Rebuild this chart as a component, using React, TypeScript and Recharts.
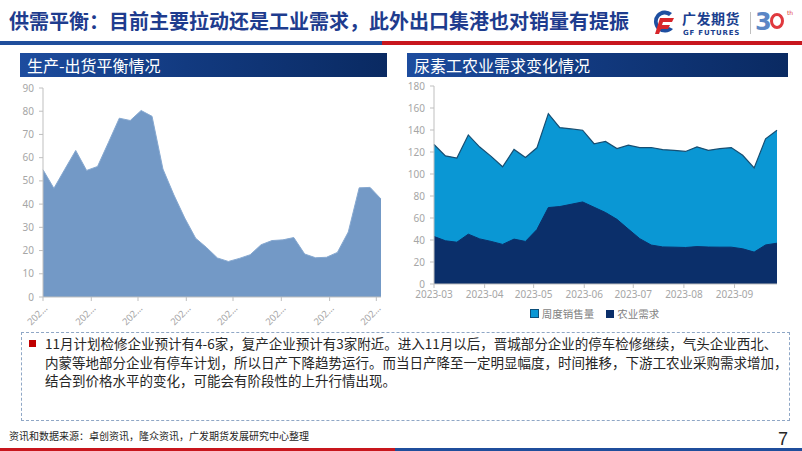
import { AreaChart, Area, XAxis, YAxis, Legend } from "recharts";

// left chart: weekly production-shipment balance
const prodWeeks = [
  "2023-03-01", "2023-03-08", "2023-03-15", "2023-03-22", "2023-03-29",
  "2023-04-05", "2023-04-12", "2023-04-19", "2023-04-26",
  "2023-05-03", "2023-05-10", "2023-05-17", "2023-05-24", "2023-05-31",
  "2023-06-07", "2023-06-14", "2023-06-21", "2023-06-28",
  "2023-07-05", "2023-07-12", "2023-07-19", "2023-07-26",
  "2023-08-02", "2023-08-09", "2023-08-16", "2023-08-23", "2023-08-30",
  "2023-09-06", "2023-09-13", "2023-09-20", "2023-09-27", "2023-10-04",
];
const prodBalance = [
  54.8, 46.8, 55, 63.1, 54.5, 56.2, 66.5, 77, 76, 80.3, 77.8, 55.1, 44, 34, 25.3, 21.3,
  16.8, 15.3, 16.6, 18.2, 22.5, 24.3, 24.6, 25.6, 18.5, 16.9, 17.1, 19.2, 28, 47, 47.2, 42.2,
];
const prodTicks = [
  "2023-03-01", "2023-04-01", "2023-05-01", "2023-06-01",
  "2023-07-01", "2023-08-01", "2023-09-01", "2023-10-01",
];
const prodYTicks = [0, 10, 20, 30, 40, 50, 60, 70, 80, 90];

// right chart: urea industrial / agricultural demand
const ureaWeeks = [
  "2023-03-01", "2023-03-08", "2023-03-15", "2023-03-22", "2023-03-29",
  "2023-04-05", "2023-04-12", "2023-04-19", "2023-04-26",
  "2023-05-03", "2023-05-10", "2023-05-17", "2023-05-24", "2023-05-31",
  "2023-06-07", "2023-06-14", "2023-06-21", "2023-06-28",
  "2023-07-05", "2023-07-12", "2023-07-19", "2023-07-26",
  "2023-08-02", "2023-08-09", "2023-08-16", "2023-08-23", "2023-08-30",
  "2023-09-06", "2023-09-13", "2023-09-20", "2023-09-27",
];
const weeklySales = [
  126.8, 116.5, 114.5, 135.5, 124.5, 116, 106.6, 122.3, 115, 123.8, 154.9, 142.2, 141, 139.8, 127.5, 129.6,
  123.2, 126.2, 124, 124.1, 122.2, 121.5, 120.5, 124.7, 121.5, 123, 124, 117, 105.5, 132, 139.8,
];
const agriDemand = [
  43.2, 39.3, 38, 45.3, 41, 38.7, 36, 40.8, 38.7, 49.5, 69.5, 70.4, 72.5, 74.6, 69.8, 65,
  58.8, 49.9, 41.2, 35.4, 33.7, 33.5, 33.2, 34, 33.6, 33.5, 33.5, 32, 29, 35.5, 37.1,
];
const ureaTicks = [
  "2023-03-01", "2023-04-01", "2023-05-01", "2023-06-01", "2023-07-01", "2023-08-01", "2023-09-01",
];
const ureaYTicks = [0, 20, 40, 60, 80, 100, 120, 140, 160, 180];
const seriesNames = ["周度销售量", "农业需求"];

const bodyLines = [
  "11月计划检修企业预计有4-6家，复产企业预计有3家附近。进入11月以后，晋城部分企业的停车检修继续，气头企业西北、",
  "内蒙等地部分企业有停车计划，所以日产下降趋势运行。而当日产降至一定明显幅度，时间推移，下游工农业采购需求增加，",
  "结合到价格水平的变化，可能会有阶段性的上升行情出现。",
];

const ts = (s: string) => new Date(s + "T00:00:00Z").getTime();

const prodData = prodWeeks.map((d, i) => ({ t: ts(d), v: prodBalance[i] }));
const ureaData = ureaWeeks.map((d, i) => ({ t: ts(d), sales: weeklySales[i], agri: agriDemand[i] }));

const CJK = "'Noto Sans CJK SC', 'Noto Sans', sans-serif";
const TICK = "#A6A6A6";
const AXIS = "#BFBFBF";
const LIGHT = "#0A97D4";
const DARK = "#0B2F6A";

const SlantTick = (props: any) => {
  const { x, y, payload } = props;
  const label = new Date(payload.value).getUTCFullYear().toString().slice(0, 3) + "…";
  return (
    <g transform={`translate(${x + 5},${y + 6}) rotate(-45)`}>
      <text x={0} y={0} textAnchor="end" fill={TICK} fontSize={9.5} fontFamily="'Noto Sans', sans-serif">
        {label}
      </text>
    </g>
  );
};

const monthLabel = (v: number) => {
  const d = new Date(v);
  return `${d.getUTCFullYear()}-${String(d.getUTCMonth() + 1).padStart(2, "0")}`;
};

const UreaLegend = () => (
  <div style={{ display: "flex", justifyContent: "center", gap: 12, fontSize: 10.5, color: "#7F7F7F", fontFamily: CJK, paddingLeft: 8 }}>
    <span style={{ display: "flex", alignItems: "center" }}>
      <span style={{ width: 7, height: 7, background: LIGHT, border: "1px solid #0B4F7A", marginRight: 3 }} />
      {seriesNames[0]}
    </span>
    <span style={{ display: "flex", alignItems: "center" }}>
      <span style={{ width: 8, height: 8, background: DARK, marginRight: 3 }} />
      {seriesNames[1]}
    </span>
  </div>
);

const PanelTitle = ({ left, width, text }: { left: number; width: number; text: string }) => (
  <div
    style={{
      position: "absolute", left, top: 53, width, height: 24,
      background: "linear-gradient(90deg, #1D4C9E 0%, #123A80 45%, #0A2A62 100%)",
      color: "#fff", fontSize: 16, lineHeight: "24px", paddingLeft: 7, boxSizing: "border-box",
      fontFamily: CJK,
    }}
  >
    {text}
  </div>
);

const Logo = () => (
  <div style={{ position: "absolute", left: 652, top: 8, width: 145, height: 30 }}>
    <svg width={24} height={26} viewBox="0 0 24 26" style={{ position: "absolute", left: 0, top: 2 }}>
      <path d="M20 3 A11 11 0 1 0 21 19 L17 17 A7 7 0 1 1 17 6 Z" fill="#1E4FA0" />
      <path d="M8 8 H22 L20 12 H11 L10 15 H18 L16 19 H9 L7 24 H3 Z" fill="#D7262B" />
    </svg>
    <div style={{ position: "absolute", left: 30, top: 3, fontSize: 14, fontWeight: 700, color: "#1B3F8F", fontFamily: CJK, letterSpacing: 0.5, lineHeight: "15px" }}>
      广发期货
    </div>
    <div style={{ position: "absolute", left: 31, top: 21, fontSize: 7, fontWeight: 700, color: "#1B3F8F", fontFamily: "'DejaVu Sans', sans-serif", letterSpacing: 0.8, lineHeight: "8px" }}>
      GF FUTURES
    </div>
    <div style={{ position: "absolute", left: 98, top: 4, width: 1, height: 22, background: "#BFBFBF" }} />
    <div style={{ position: "absolute", left: 103, top: -1, fontSize: 24, fontWeight: 700, color: "#5B86C5", fontFamily: "'DejaVu Sans', sans-serif", lineHeight: "30px" }}>
      3
    </div>
    <div style={{ position: "absolute", left: 118, top: 5, width: 14, height: 16, borderRadius: "50%", border: "3px solid #E0393E", boxSizing: "border-box" }} />
    <div style={{ position: "absolute", left: 135, top: 1, fontSize: 6, color: "#E0393E", fontFamily: "'DejaVu Sans', sans-serif" }}>th</div>
  </div>
);

export default function App() {
  return (
    <div style={{ position: "relative", width: 802, height: 451, background: "#fff", overflow: "hidden" }}>
      <style>{`body{margin:0}`}</style>

      {/* header */}
      <div style={{ position: "absolute", left: 9, top: 8, fontSize: 20, fontWeight: 700, color: "#1E3C8E", fontFamily: CJK, lineHeight: "26px", whiteSpace: "nowrap" }}>
        供需平衡：目前主要拉动还是工业需求，此外出口集港也对销量有提振
      </div>
      <Logo />
      <div style={{ position: "absolute", left: 0, top: 41, width: 382, height: 4, background: "#1F4E9C" }} />
      <div style={{ position: "absolute", left: 382, top: 41, width: 420, height: 4, background: "#C8161D" }} />

      <PanelTitle left={20} width={367} text="生产-出货平衡情况" />
      <PanelTitle left={407} width={381} text="尿素工农业需求变化情况" />

      {/* left chart */}
      <div style={{ position: "absolute", left: 0, top: 80 }}>
        <AreaChart width={400} height={252} data={prodData} margin={{ top: 8, right: 19, bottom: 0, left: 3 }}>
          <XAxis
            dataKey="t" type="number" domain={["dataMin", "dataMax"]} ticks={prodTicks.map(ts)}
            tick={<SlantTick />} height={35} interval={0}
            axisLine={{ stroke: AXIS }} tickLine={{ stroke: AXIS }} tickSize={4}
          />
          <YAxis
            domain={[0, 90]} ticks={prodYTicks} width={40} interval={0}
            tick={{ fill: TICK, fontSize: 10, fontFamily: "'Noto Sans', sans-serif" }}
            axisLine={{ stroke: AXIS }} tickLine={{ stroke: AXIS }} tickSize={4} tickMargin={5}
          />
          <Area type="linear" dataKey="v" fill="#7399C6" fillOpacity={1} stroke="#86A8D0" strokeWidth={1} isAnimationActive={false} />
        </AreaChart>
      </div>

      {/* right chart */}
      <div style={{ position: "absolute", left: 400, top: 76 }}>
        <AreaChart width={390} height={250} data={ureaData} margin={{ top: 10, right: 13, bottom: 0, left: 4 }}>
          <XAxis
            dataKey="t" type="number" domain={["dataMin", "dataMax"]} ticks={ureaTicks.map(ts)}
            tickFormatter={monthLabel} height={22} interval={0}
            tick={{ fill: TICK, fontSize: 10, fontFamily: "'Noto Sans', sans-serif" }}
            axisLine={{ stroke: AXIS }} tickLine={{ stroke: AXIS }} tickSize={4} tickMargin={3}
          />
          <YAxis
            domain={[0, 180]} ticks={ureaYTicks} width={30} interval={0}
            tick={{ fill: TICK, fontSize: 10, fontFamily: "'Noto Sans', sans-serif" }}
            axisLine={{ stroke: AXIS }} tickLine={{ stroke: AXIS }} tickSize={4} tickMargin={5}
          />
          <Legend verticalAlign="bottom" height={20} content={<UreaLegend />} />
          <Area type="linear" dataKey="sales" name={seriesNames[0]} fill={LIGHT} fillOpacity={1} stroke="#174E72" strokeWidth={1.2} isAnimationActive={false} />
          <Area type="linear" dataKey="agri" name={seriesNames[1]} fill={DARK} fillOpacity={1} stroke={DARK} strokeWidth={1} isAnimationActive={false} />
        </AreaChart>
      </div>

      {/* text box */}
      <div style={{ position: "absolute", left: 21, top: 332, width: 769, height: 89, border: "1px dashed #8FA7C6", boxSizing: "border-box" }} />
      <div style={{ position: "absolute", left: 29, top: 340, width: 7, height: 7, background: "#C00000" }} />
      {bodyLines.map((line, i) => (
        <div
          key={i}
          style={{
            position: "absolute", left: 45, top: 334 + i * 18.5, fontSize: 13.5, lineHeight: "18px",
            color: "#262626", fontFamily: CJK, whiteSpace: "nowrap",
          }}
        >
          {line}
        </div>
      ))}

      {/* footer */}
      <div style={{ position: "absolute", left: 9, top: 429, fontSize: 10, color: "#262626", fontFamily: CJK, lineHeight: "14px", whiteSpace: "nowrap" }}>
        资讯和数据来源：卓创资讯，隆众资讯，广发期货发展研究中心整理
      </div>
      <div style={{ position: "absolute", left: 778, top: 429, fontSize: 18, color: "#262626", fontFamily: "'Liberation Sans', sans-serif", lineHeight: "20px" }}>
        7
      </div>
      <div style={{ position: "absolute", left: 0, top: 448, width: 395, height: 3, background: "#C8161D" }} />
      <div style={{ position: "absolute", left: 395, top: 448, width: 407, height: 3, background: "#1F4E9C" }} />
    </div>
  );
}
